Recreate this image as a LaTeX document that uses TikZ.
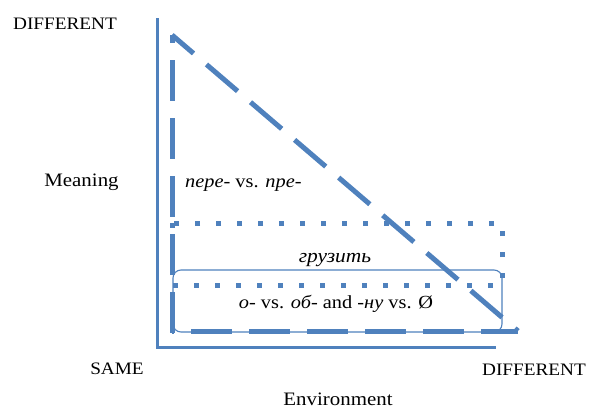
\documentclass[tikz,border=0pt]{standalone}
\usepackage{fontspec}
\setmainfont{Liberation Serif}[FakeStretch=1.1]
\definecolor{accent}{HTML}{4F81BD}
\begin{document}
\begin{tikzpicture}[x=1pt,y=-1pt,
  lbl/.style={inner sep=0pt,anchor=base,font=\fontsize{17.5}{20}\selectfont},
  lblw/.style={lbl,font=\fontsize{19}{22}\selectfont},
  lbli/.style={lbl,font=\fontsize{18.5}{22}\selectfont},
  axisline/.style={draw=accent,line width=3pt},
  dashseg/.style={draw=accent,line width=5pt},
  dashtri/.style={draw=accent,line width=5pt,dash pattern=on 41pt off 17pt},
  dotbox/.style={draw=accent,line width=5pt,dash pattern=on 5pt off 16pt},
  roundbox/.style={draw=accent,line width=1.1pt,rounded corners=8pt}]
\useasboundingbox (0,0) rectangle (590,408);
% axes
\coordinate (ytop) at (157,18);
\coordinate (orig) at (157,347);
\coordinate (xend) at (496,347);
\draw[axisline] (ytop) -- (orig) -- (xend);
% dashed triangle
\coordinate (tA) at (172,35);
\coordinate (tB) at (172,331);
\coordinate (tC) at (518,331);
\foreach \ya/\yb in {35/43,60/101,118/159,176/217,234/275,292/333}
  \draw[dashseg] (172,\ya) -- (172,\yb);
\draw[dashtri,dash phase=39pt] (tB) -- (tC);
\draw[dashtri,dash phase=37pt] (tC) -- (tA);
% dotted box
\coordinate (dA) at (172,223);
\coordinate (dB) at (502,285);
\draw[dotbox] (dA) rectangle (dB);
% rounded box
\coordinate (rA) at (173,270);
\coordinate (rB) at (502,332);
\draw[roundbox] (rA) rectangle (rB);
% labels
\node[lbl] (dtop) at (65,29) {DIFFERENT};
\node[lblw] (mean) at (81.5,186) {Meaning};
\node[lbl] (same) at (117,374) {SAME};
\node[lbl] (dbot) at (534,375) {DIFFERENT};
\node[lblw] (env) at (338,405) {Environment};
\node[lbli,anchor=base west] (pere) at (185,187) {\textit{пере-} vs. \textit{пре-}};
\node[lbli,font=\fontsize{19.5}{22}\selectfont] (gruz) at (335,262) {\textit{грузить}};
\node[lbli] (obo) at (336,308) {\textit{о-} vs. \textit{об-} and \textit{-ну} vs. Ø};
\end{tikzpicture}
\end{document}
